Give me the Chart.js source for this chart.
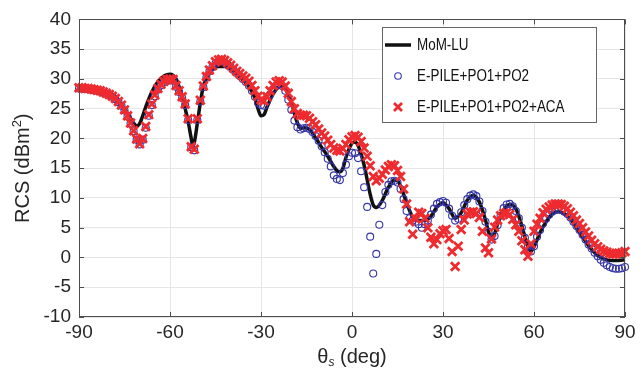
<!DOCTYPE html>
<html>
<head>
<meta charset="utf-8">
<script src="https://cdn.jsdelivr.net/npm/chart.js@4.4.1/dist/chart.umd.min.js"></script>
<style>
html, body { margin: 0; padding: 0; background: #fff; }
</style>
</head>
<body>
<canvas id="rcsChart" width="644" height="377"></canvas>
<script>
// scattering angle grid of the two fast solvers (deg)
var theta = [
  -90,-89,-88,-87,-86,-85,-84,-83,-82,-81,-80,-79,-78,-77,-76,
  -75,-74,-73,-72,-71,-70,-69,-68,-67,-66,-65,-64,-63,-62,-61,
  -60,-59,-58,-57,-56,-55,-54,-53,-52,-51,-50,-49,-48,-47,-46,
  -45,-44,-43,-42,-41,-40,-39,-38,-37,-36,-35,-34,-33,-32,-31,
  -30,-29,-28,-27,-26,-25,-24,-23,-22,-21,-20,-19,-18,-17,-16,
  -15,-14,-13,-12,-11,-10,-9,-8,-7,-6,-5,-4,-3,-2,-1,
  0,1,2,3,4,5,6,7,8,9,10,11,12,13,14,
  15,16,17,18,19,20,21,22,23,24,25,26,27,28,29,
  30,31,32,33,34,35,36,37,38,39,40,41,42,43,44,
  45,46,47,48,49,50,51,52,53,54,55,56,57,58,59,
  60,61,62,63,64,65,66,67,68,69,70,71,72,73,74,
  75,76,77,78,79,80,81,82,83,84,85,86,87,88,89,
  90
];

// E-PILE+PO1+PO2 (dBm^2)
var pileRcs = [
  28.4,28.4,28.3,28.3,28.2,28.1,28.0,27.9,27.7,27.5,27.3,27.0,26.6,26.1,25.5,
  24.7,23.7,22.5,21.2,19.8,19.0,19.8,21.8,23.8,25.6,27.1,28.2,28.9,29.4,29.7,
  29.8,29.7,28.7,27.8,26.8,25.6,23.1,18.5,18.0,23.1,26.2,28.6,30.2,31.3,32.0,
  32.6,32.9,33.0,32.8,32.4,32.0,31.5,31.0,30.5,30.0,29.5,28.9,28.0,27.0,26.0,
  25.6,25.5,26.3,27.4,28.3,28.9,29.1,28.8,28.0,26.5,24.8,23.0,21.9,21.5,21.7,
  21.8,21.6,21.1,20.4,19.6,18.7,17.7,16.6,15.3,13.8,13.2,13.0,14.2,15.6,17.0,
  17.6,17.5,16.7,14.5,11.8,8.5,3.5,-2.7,0.6,5.5,8.8,11.0,12.2,12.8,12.9,
  12.6,11.5,9.8,7.8,6.6,6.2,6.0,5.6,5.0,5.6,6.2,7.2,8.2,9.0,9.3,
  9.5,9.2,8.2,7.0,6.2,6.5,7.6,8.8,9.8,10.4,10.6,10.3,9.4,7.8,6.0,
  4.3,3.0,3.6,5.4,7.0,8.3,8.9,9.0,8.6,7.8,6.6,5.0,3.3,1.8,1.0,
  1.9,3.5,4.6,5.7,6.5,7.2,7.7,8.0,8.1,8.0,7.7,7.3,6.7,6.0,5.3,
  4.6,3.8,3.0,2.2,1.5,0.8,0.2,-0.4,-0.9,-1.3,-1.6,-1.8,-1.9,-1.9,-1.8,
  -1.6
];

// E-PILE+PO1+PO2+ACA (dBm^2)
var acaRcs = [
  28.5,28.5,28.4,28.4,28.3,28.2,28.1,28.0,27.8,27.6,27.4,27.1,26.7,26.2,25.6,
  24.8,23.8,22.6,21.3,19.9,19.1,20.0,22.0,24.0,25.8,27.3,28.4,29.1,29.6,29.9,
  30.0,29.9,28.9,28.0,27.0,25.8,23.3,18.6,18.2,23.3,26.4,28.8,30.4,31.5,32.2,
  32.9,33.2,33.3,33.1,32.7,32.3,31.8,31.3,30.9,30.5,30.1,29.6,28.9,28.0,27.1,
  26.5,26.3,27.0,28.0,28.9,29.5,29.7,29.5,28.8,27.6,26.2,25.0,24.2,23.9,23.9,
  23.8,23.4,22.8,22.3,21.6,20.9,20.4,19.7,19.0,18.4,18.0,17.9,18.3,19.0,19.8,
  20.3,20.5,20.2,19.5,18.4,17.0,15.4,13.6,12.9,13.3,14.0,14.7,15.3,15.6,15.4,
  14.6,13.6,11.5,9.0,6.0,3.9,6.5,7.6,7.4,6.6,5.0,3.4,2.3,3.0,4.0,
  4.5,4.7,3.2,1.0,-1.5,1.9,4.7,6.3,7.3,7.6,7.7,7.4,6.7,4.4,1.6,
  0.8,3.1,5.1,6.3,7.0,7.4,7.5,7.2,6.4,5.5,4.4,2.8,1.3,0.2,2.3,
  4.4,5.6,6.6,7.5,8.1,8.5,8.8,9.0,9.0,8.9,8.6,8.2,7.6,7.0,6.3,
  5.7,5.0,4.3,3.6,2.9,2.3,1.8,1.4,1.1,0.9,0.7,0.6,0.6,0.7,0.8,
  1.0
];

// MoM-LU reference curve, sampled at its turning points
var momTheta = [-90,-88,-86,-84,-82,-80,-78,-76,-74,-72,-71,-70,-69,-68,-66,-64,-62,-60,-58,-56,-55,-54,-53,-52.5,-52,-51,-50,-49,-48,-46,-44,-42,-40,-38,-36,-34,-32,-31,-30,-29,-28,-26,-24,-23,-22,-20,-18,-17,-16,-14,-12,-10,-8,-6,-5,-4,-3,-2,0,1,2,4,6,7,8,10,12,14,15,16,18,20,22,24,26,28,30,32,34,36,38,40,42,44,45,46,47,48,50,52,54,56,58,59,60,62,64,66,68,70,72,74,76,78,80,82,84,86,88,90];
var momRcs = [28.4,28.3,28.2,28.0,27.7,27.3,26.6,25.6,24.2,22.6,22.1,22.5,23.8,25.3,27.8,29.5,30.5,30.8,30.0,27.0,25.0,22.8,20.0,18.8,19.3,22.5,26.0,28.8,30.0,31.6,32.1,32.1,31.7,30.8,29.8,28.7,26.8,25.0,23.8,24.0,25.3,27.5,28.7,28.8,28.4,26.0,22.6,21.7,21.8,21.5,20.1,18.5,17.0,15.3,14.6,14.4,15.0,16.8,19.2,19.4,18.8,15.5,10.6,8.8,8.4,9.6,11.8,13.0,12.9,12.0,9.2,6.8,6.2,6.2,6.9,8.5,9.2,8.2,6.6,7.5,9.6,10.4,9.3,6.3,4.3,3.3,4.0,5.6,8.0,8.9,8.2,5.3,1.8,1.1,1.8,4.2,6.0,7.3,7.7,7.4,6.5,5.0,3.5,2.0,0.8,0.0,-0.4,-0.5,-0.5,-0.4];

var xTicks = [-90, -60, -30, 0, 30, 60, 90];
var yTicks = [-10, -5, 0, 5, 10, 15, 20, 25, 30, 35, 40];

function pairs(xs, ys) {
  return xs.map(function(x, i) { return { x: x, y: ys[i] }; });
}

var fontFamily = '"Liberation Sans", Arial, Helvetica, sans-serif';
Chart.defaults.font.family = fontFamily;

// box, inward ticks, axis titles and legend drawn on top
var framePlugin = {
  id: 'frame',
  afterDraw: function(chart) {
    var ctx = chart.ctx;
    var a = chart.chartArea;
    var xs = chart.scales.x, ys = chart.scales.y;
    ctx.save();
    ctx.strokeStyle = '#4d4d4d';
    ctx.lineWidth = 1;
    ctx.strokeRect(Math.round(a.left) + 0.5, Math.round(a.top) + 0.5,
                   Math.round(a.right - a.left) - 1, Math.round(a.bottom - a.top) - 1);
    ctx.beginPath();
    xTicks.forEach(function(v) {
      var px = Math.round(xs.getPixelForValue(v)) + 0.5;
      ctx.moveTo(px, a.bottom); ctx.lineTo(px, a.bottom - 5);
      ctx.moveTo(px, a.top); ctx.lineTo(px, a.top + 5);
    });
    yTicks.forEach(function(v) {
      var py = Math.round(ys.getPixelForValue(v)) + 0.5;
      ctx.moveTo(a.left, py); ctx.lineTo(a.left + 5, py);
      ctx.moveTo(a.right, py); ctx.lineTo(a.right - 5, py);
    });
    ctx.stroke();

    // x title: theta with subscript s
    ctx.fillStyle = '#262626';
    ctx.textBaseline = 'alphabetic';
    var cx = (a.left + a.right) / 2;
    var by = 363;
    ctx.font = '20px ' + fontFamily;
    var w1 = ctx.measureText('\u03b8').width;
    var w3 = ctx.measureText(' (deg)').width;
    ctx.font = 'italic 12px ' + fontFamily;
    var w2 = ctx.measureText('s').width;
    var sx = cx - (w1 + w2 + w3) / 2;
    ctx.font = '20px ' + fontFamily;
    ctx.textAlign = 'left';
    ctx.fillText('\u03b8', sx, by);
    ctx.font = 'italic 12px ' + fontFamily;
    ctx.fillText('s', sx + w1, by + 3);
    ctx.font = '20px ' + fontFamily;
    ctx.fillText(' (deg)', sx + w1 + w2, by);

    // y title: RCS (dBm^2)
    ctx.save();
    ctx.translate(29, (a.top + a.bottom) / 2);
    ctx.rotate(-Math.PI / 2);
    ctx.font = '20px ' + fontFamily;
    var t1 = 'RCS (dBm', t3 = ')';
    var u1 = ctx.measureText(t1).width, u3 = ctx.measureText(t3).width;
    ctx.font = '13px ' + fontFamily;
    var u2 = ctx.measureText('2').width;
    var ox = -(u1 + u2 + u3) / 2;
    ctx.font = '20px ' + fontFamily;
    ctx.fillText(t1, ox, 0);
    ctx.font = '13px ' + fontFamily;
    ctx.fillText('2', ox + u1, -8);
    ctx.font = '20px ' + fontFamily;
    ctx.fillText(t3, ox + u1 + u2, 0);
    ctx.restore();

    // legend box
    var lx = 382, ly = 27, lw = 215, lh = 96;
    ctx.fillStyle = '#ffffff';
    ctx.fillRect(lx, ly, lw, lh);
    ctx.strokeStyle = '#666666';
    ctx.strokeRect(lx + 0.5, ly + 0.5, lw - 1, lh - 1);
    var rows = [45, 76, 107];
    var ds = chart.data.datasets;
    ctx.font = '16px ' + fontFamily;
    ctx.textBaseline = 'middle';
    ctx.textAlign = 'left';
    ctx.fillStyle = '#111111';
    rows.forEach(function(ry, i) {
      ctx.save();
      ctx.translate(417, ry + 1);
      ctx.scale(0.84, 1);
      ctx.fillText(ds[i].label, 0, 0);
      ctx.restore();
    });
    ctx.strokeStyle = ds[0].borderColor;
    ctx.lineWidth = 3.5;
    ctx.beginPath(); ctx.moveTo(385, rows[0]); ctx.lineTo(411, rows[0]); ctx.stroke();
    ctx.strokeStyle = ds[1].pointBorderColor;
    ctx.lineWidth = 1.1;
    ctx.beginPath(); ctx.arc(398, rows[1], 3.3, 0, Math.PI * 2); ctx.stroke();
    ctx.strokeStyle = ds[2].pointBorderColor;
    ctx.lineWidth = 2.8;
    ctx.beginPath();
    ctx.moveTo(394, rows[2] - 4); ctx.lineTo(402, rows[2] + 4);
    ctx.moveTo(402, rows[2] - 4); ctx.lineTo(394, rows[2] + 4);
    ctx.stroke();
    ctx.restore();
  }
};

var ctx = document.getElementById('rcsChart').getContext('2d');
var rcsChart = new Chart(ctx, {
  type: 'line',
  data: {
    datasets: [
      {
        label: 'MoM-LU',
        data: pairs(momTheta, momRcs),
        borderColor: '#111111',
        borderWidth: 3.5,
        pointRadius: 0,
        cubicInterpolationMode: 'monotone',
        fill: false,
        order: 2,
        clip: false
      },
      {
        label: 'E-PILE+PO1+PO2',
        data: pairs(theta, pileRcs),
        showLine: false,
        pointStyle: 'circle',
        pointRadius: 3.5,
        pointBorderWidth: 1.1,
        pointBorderColor: '#3535a8',
        pointBackgroundColor: 'rgba(0,0,0,0)',
        order: 1,
        clip: false
      },
      {
        label: 'E-PILE+PO1+PO2+ACA',
        data: pairs(theta, acaRcs),
        showLine: false,
        pointStyle: 'crossRot',
        pointRadius: 6,
        pointBorderWidth: 2.8,
        pointBorderColor: '#ee2b2f',
        pointBackgroundColor: '#ee2b2f',
        order: 0,
        clip: false
      }
    ]
  },
  options: {
    responsive: false,
    animation: false,
    devicePixelRatio: 1,
    layout: { padding: { left: 0, right: 19, top: 14, bottom: 0 } },
    scales: {
      x: {
        type: 'linear',
        min: -90,
        max: 90,
        afterBuildTicks: function(axis) {
          axis.ticks = xTicks.map(function(v) { return { value: v }; });
        },
        afterFit: function(axis) { axis.height = 60; },
        ticks: { font: { size: 19 }, color: '#262626', padding: 4 },
        grid: { color: '#e6e6e6', drawTicks: false },
        border: { display: false }
      },
      y: {
        type: 'linear',
        min: -10,
        max: 40,
        afterBuildTicks: function(axis) {
          axis.ticks = yTicks.map(function(v) { return { value: v }; });
        },
        afterFit: function(axis) { axis.width = 79; },
        ticks: { font: { size: 19 }, color: '#262626', padding: 8 },
        grid: { color: '#e6e6e6', drawTicks: false },
        border: { display: false }
      }
    },
    plugins: {
      legend: { display: false },
      tooltip: { enabled: false }
    }
  },
  plugins: [framePlugin]
});
</script>
</body>
</html>
